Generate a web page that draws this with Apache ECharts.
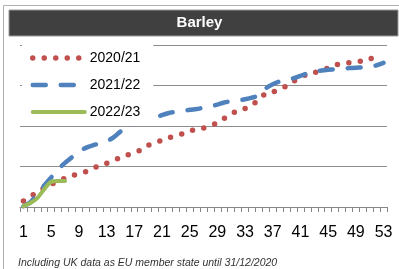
<!DOCTYPE html>
<html><head><meta charset="utf-8">
<script src="https://cdn.jsdelivr.net/npm/echarts@6/dist/echarts.min.js"></script>
<style>html,body{margin:0;padding:0;background:#fff}#c{width:399px;height:269px}</style>
</head><body><div id="c"></div>
<script>
var weeks = [];
for (var i = 1; i <= 53; i++) weeks.push(String(i));
var s2020 = [0.15,0.26,0.36,0.47,0.56,0.64,0.71,0.77,0.82,0.87,0.95,1.02,1.08,1.15,1.22,1.28,1.35,1.41,1.52,1.58,1.65,1.71,1.76,1.81,1.87,1.92,1.95,2.01,2.08,2.19,2.29,2.39,2.43,2.52,2.65,2.80,2.84,2.90,2.99,3.10,3.20,3.28,3.32,3.37,3.43,3.50,3.54,3.56,3.58,3.61,3.66,3.70,null];
var s2021 = [0.02,0.12,0.31,0.53,0.73,0.93,1.09,1.23,1.37,1.46,1.52,1.57,1.62,1.72,1.86,1.97,2.05,2.11,2.15,2.20,2.27,2.32,2.35,2.37,2.40,2.42,2.45,2.48,2.53,2.58,2.61,2.63,2.66,2.70,2.76,2.93,3.03,3.10,3.14,3.18,3.24,3.30,3.33,3.37,3.39,3.40,3.42,3.43,3.44,3.45,3.46,3.50,3.56];
var s2022 = [0.02,0.10,0.22,0.44,0.62,0.64,0.64];
var seriesNames = ['2020/21','2021/22','2022/23'];
var titleText = 'Barley';
var footnote = 'Including UK data as EU member state until 31/12/2020';

var colors = ['#C0504D','#4F81BD','#9BBB59'];
var styles = [
  {width:5.5, type:[0,11.5], cap:'round'},
  {width:4.5, type:[13,15], cap:'round'},
  {width:4, type:'solid', cap:'round'}
];
function ls(i){ var o = {color:colors[i]}; for (var k in styles[i]) o[k]=styles[i][k]; return o; }

var chart = echarts.init(document.getElementById('c'), null, {renderer:'canvas'});
var font = 'Liberation Sans, Arial, sans-serif';
chart.setOption({
  animation: false,
  textStyle: {fontFamily: font},
  graphic: [
    {type:'rect', shape:{x:3.5,y:5.5,width:400,height:270}, style:{fill:'none', stroke:'#b0b0b0', lineWidth:1}, z:0},
    {type:'rect', shape:{x:9,y:10,width:389,height:26}, style:{fill:'#404040', stroke:'#9a9a9a', lineWidth:1}, z:10},
    {type:'text', left:'center', top:15, style:{text:titleText, fill:'#fff', font:'bold 15px '+font}, z:11},
    {type:'text', left:18, top:258, style:{text:footnote, fill:'#333', font:'italic 10.5px '+font}, z:11}
  ],
  grid: {left:20, right:12, top:45, bottom:62},
  legend: {
    orient:'vertical', left:22, top:44,
    data: seriesNames.map(function(n,i){ return {name:n, itemStyle:{opacity:0}, lineStyle:ls(i)}; }),
    itemWidth:52, itemHeight:14, itemGap:13,
    padding:[7,13,7,8],
    backgroundColor:'#fff',
    textStyle:{fontSize:14, color:'#000', fontFamily:font},
    z: 5
  },
  xAxis: {
    type:'category', data:weeks, boundaryGap:true,
    axisLine:{lineStyle:{color:'#868686'}},
    axisTick:{show:true, interval:0, length:5, lineStyle:{color:'#868686'}},
    axisLabel:{interval:3, fontSize:16, color:'#000', margin:18, fontFamily:font},
    splitLine:{show:false}
  },
  yAxis: {
    type:'value', min:0, max:4, interval:1,
    axisLabel:{show:false}, axisLine:{show:false}, axisTick:{show:false},
    splitLine:{lineStyle:{color:'#8c8c8c', width:1}}
  },
  series: [
    {name:seriesNames[0], type:'line', data:s2020, showSymbol:false, symbol:'none', smooth:0.3,
     lineStyle:ls(0), itemStyle:{color:colors[0]}, z:2},
    {name:seriesNames[1], type:'line', data:s2021, showSymbol:false, symbol:'none', smooth:0.3,
     lineStyle:ls(1), itemStyle:{color:colors[1]}, z:3},
    {name:seriesNames[2], type:'line', data:s2022, showSymbol:false, symbol:'none', smooth:0.3,
     lineStyle:ls(2), itemStyle:{color:colors[2]}, z:4}
  ]
});
</script></body></html>
